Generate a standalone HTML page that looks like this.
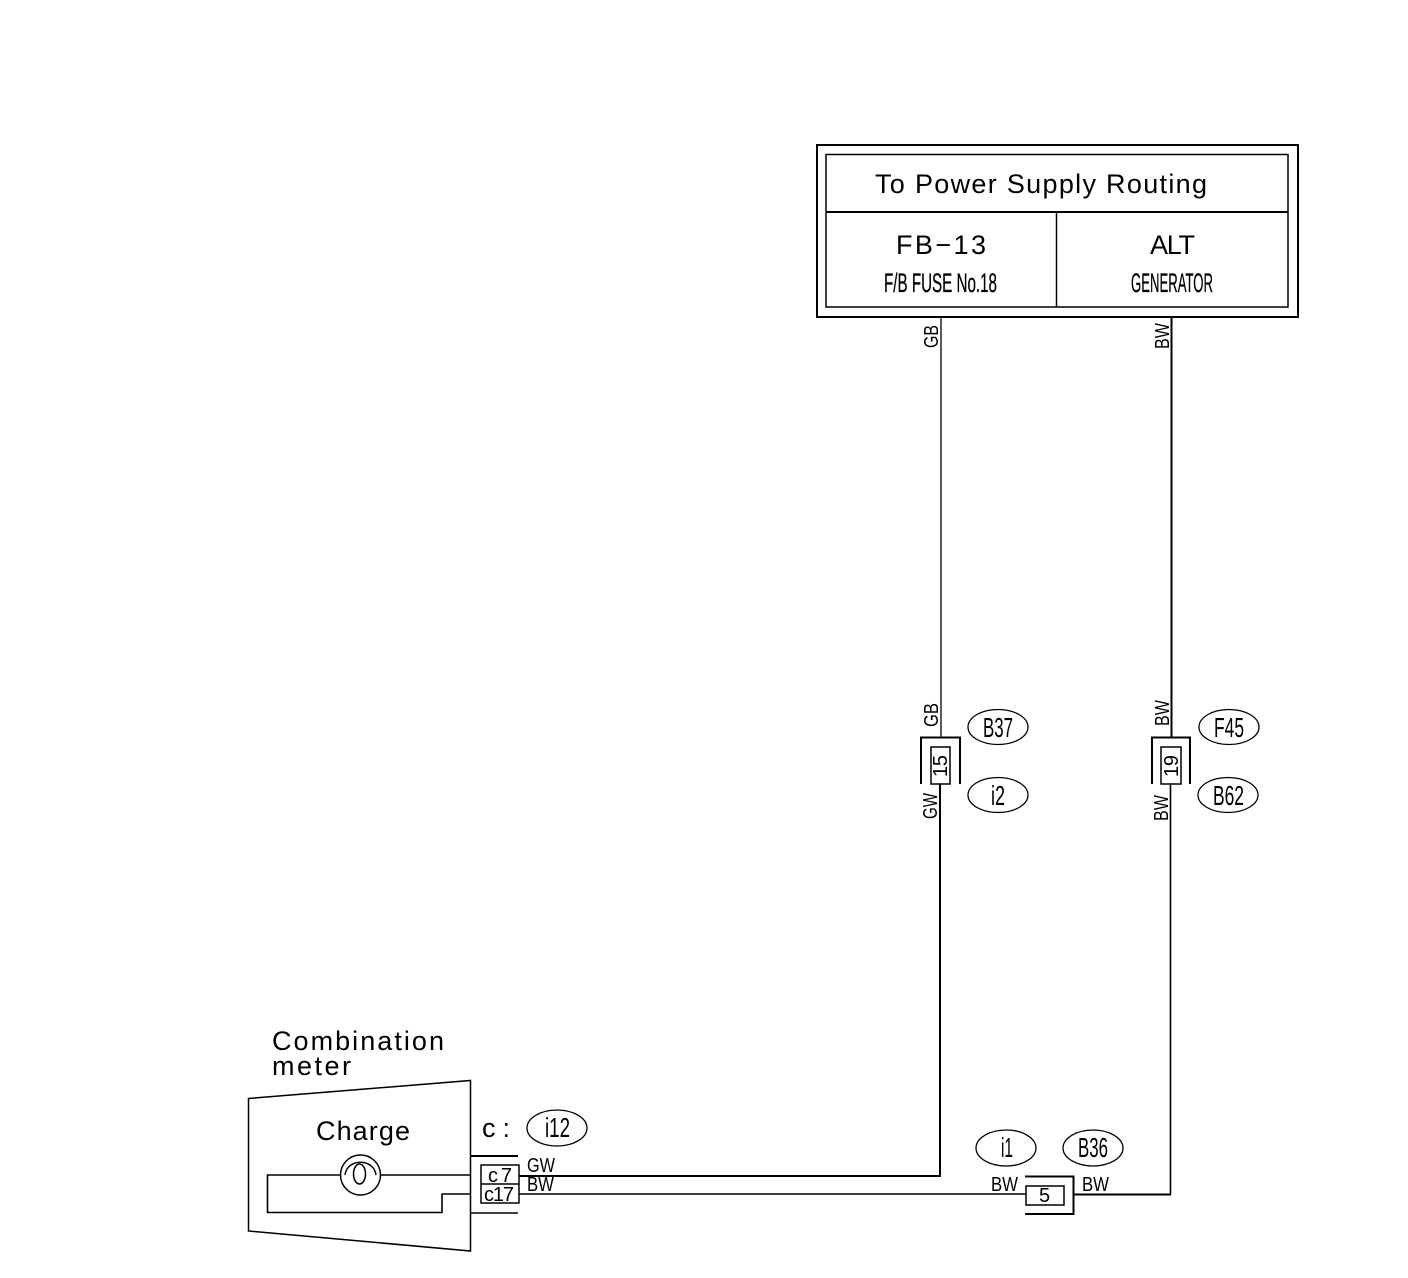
<!DOCTYPE html>
<html><head><meta charset="utf-8"><style>
html,body{margin:0;padding:0;background:#fff}
svg{display:block}
text{font-family:"Liberation Sans",sans-serif;fill:#000}
</style></head><body>
<svg width="1408" height="1278" viewBox="0 0 1408 1278" xmlns="http://www.w3.org/2000/svg">
<g fill="none" stroke="#000" stroke-width="2">
<!-- Top box -->
<rect x="817" y="145" width="481" height="172"/>
<rect x="826" y="154.500" width="462" height="152.500" stroke-width="1.500"/>
<path d="M826 212H1288" stroke-width="2"/>
<path d="M1056.500 212V307" stroke-width="1.500"/>
<!-- Vertical wires -->
<path d="M941 317V737" stroke-width="1.300"/>
<path d="M1171.500 317V737" stroke-width="2"/>
<path d="M940 784V1176H519" stroke-width="2"/>
<path d="M1170.500 784V1194.500" stroke-width="1.600"/>
<path d="M1171 1194.500H1074" stroke-width="2"/>
<path d="M519 1194H1026" stroke-width="1.600"/>
<!-- Connector 15 -->
<path d="M921 784V737.500H960V784" stroke-width="2"/>
<rect x="931" y="747" width="19" height="37" stroke-width="1.500"/>
<!-- Connector 19 -->
<path d="M1152 784V737.500H1190V784" stroke-width="2"/>
<rect x="1161" y="747" width="20" height="37" stroke-width="1.500"/>
<!-- Connector 5 -->
<path d="M1025 1176.500H1073.500V1214H1025" stroke-width="2"/>
<rect x="1026" y="1186" width="38" height="19" stroke-width="1.500"/>
<!-- Ellipses -->
<g stroke-width="1.300">
<ellipse cx="998" cy="727" rx="30" ry="17.500"/>
<ellipse cx="998" cy="795" rx="30" ry="17.500"/>
<ellipse cx="1229" cy="727" rx="30" ry="17.500"/>
<ellipse cx="1228" cy="795" rx="30" ry="17.500"/>
<ellipse cx="557" cy="1128" rx="30" ry="18"/>
<ellipse cx="1006" cy="1148" rx="30" ry="18"/>
<ellipse cx="1093" cy="1148" rx="30" ry="18"/>
</g>
<!-- Meter -->
<path d="M248.500 1098.500L470.500 1080.500V1251L248.500 1231Z" stroke-width="1.500"/>
<path d="M470 1156H518" stroke-width="2"/>
<path d="M470 1213H518" stroke-width="1.600"/>
<rect x="481" y="1165" width="38" height="38" stroke-width="1.500"/>
<path d="M481 1184H519" stroke-width="1.500"/>
<path d="M470 1175H381M340 1175H267.500V1212.500H442V1194H470" stroke-width="1.600"/>
<circle cx="360.500" cy="1175" r="20" stroke-width="1.500"/>
<path d="M345 1175C347 1158 374 1158 376 1175" stroke-width="1.500"/>
<ellipse cx="359.500" cy="1174" rx="6" ry="10" stroke-width="1.500"/>
</g>

<!-- Box text -->
<text x="875" y="193" font-size="27" textLength="332" lengthAdjust="spacing">To Power Supply Routing</text>
<text x="896" y="254" font-size="27" textLength="90" lengthAdjust="spacing">FB−13</text>
<text x="1150" y="254" font-size="27" textLength="45" lengthAdjust="spacing">ALT</text>
<text x="884" y="292" font-size="27" textLength="113" lengthAdjust="spacingAndGlyphs" stroke="#000" stroke-width="0.300">F/B FUSE No.18</text>
<text x="1131" y="292" font-size="27" textLength="82" lengthAdjust="spacingAndGlyphs" stroke="#000" stroke-width="0.300">GENERATOR</text>

<!-- Rotated wire labels -->
<g font-size="20">
<text transform="translate(938 348) rotate(-90)" textLength="23" lengthAdjust="spacingAndGlyphs">GB</text>
<text transform="translate(1169 349) rotate(-90)" textLength="26" lengthAdjust="spacingAndGlyphs">BW</text>
<text transform="translate(938 727) rotate(-90)" textLength="24" lengthAdjust="spacingAndGlyphs">GB</text>
<text transform="translate(937 819) rotate(-90)" textLength="26" lengthAdjust="spacingAndGlyphs">GW</text>
<text transform="translate(1169 726) rotate(-90)" textLength="26" lengthAdjust="spacingAndGlyphs">BW</text>
<text transform="translate(1168 821) rotate(-90)" textLength="26" lengthAdjust="spacingAndGlyphs">BW</text>
<text transform="translate(947 777) rotate(-90)" textLength="22" lengthAdjust="spacing">15</text>
<text transform="translate(1178 777) rotate(-90)" textLength="22" lengthAdjust="spacing">19</text>
</g>

<!-- Ellipse labels -->
<g font-size="28">
<text x="983" y="737" textLength="30" lengthAdjust="spacingAndGlyphs">B37</text>
<text x="991" y="805" textLength="14" lengthAdjust="spacingAndGlyphs">i2</text>
<text x="1214" y="737" textLength="30" lengthAdjust="spacingAndGlyphs">F45</text>
<text x="1213" y="805" textLength="31" lengthAdjust="spacingAndGlyphs">B62</text>
<text x="545" y="1137" textLength="25" lengthAdjust="spacingAndGlyphs">i12</text>
<text x="1001" y="1157" textLength="12" lengthAdjust="spacingAndGlyphs">i1</text>
<text x="1078" y="1157" textLength="30" lengthAdjust="spacingAndGlyphs">B36</text>
</g>

<!-- Meter text -->
<g font-size="27">
<text x="272" y="1050" textLength="172" lengthAdjust="spacing">Combination</text>
<text x="272" y="1075" textLength="79" lengthAdjust="spacing">meter</text>
<text x="316" y="1140" textLength="94" lengthAdjust="spacing">Charge</text>
<text x="482" y="1137" textLength="28" lengthAdjust="spacing">c :</text>
</g>
<g font-size="20">
<text x="488" y="1182" textLength="24" lengthAdjust="spacing">c7</text>
<text x="484" y="1201" textLength="30" lengthAdjust="spacing">c17</text>
<text x="527" y="1172" textLength="28" lengthAdjust="spacingAndGlyphs">GW</text>
<text x="527" y="1191" textLength="27" lengthAdjust="spacingAndGlyphs">BW</text>
<text x="991" y="1191" textLength="27" lengthAdjust="spacingAndGlyphs">BW</text>
<text x="1082" y="1191" textLength="27" lengthAdjust="spacingAndGlyphs">BW</text>
<text x="1039" y="1202">5</text>
</g>
</svg>
</body></html>
